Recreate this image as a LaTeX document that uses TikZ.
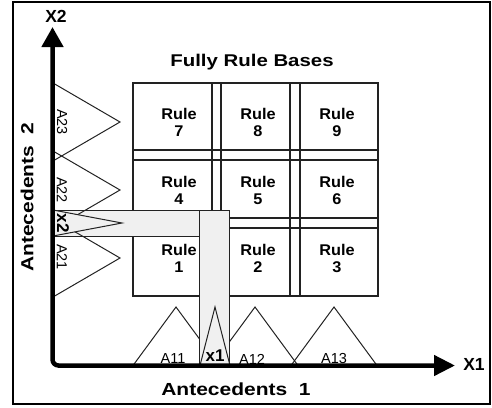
\documentclass[tikz,border=0pt]{standalone}
\usepackage{fontspec}
\setmainfont{Liberation Sans}
\newfontfamily\wideA[FakeStretch=1.2]{Liberation Sans}
\newfontfamily\wideB[FakeStretch=1.05]{Liberation Sans}
\usetikzlibrary{arrows.meta}
\definecolor{ink}{HTML}{222222}
\definecolor{stripfill}{HTML}{F0F0F0}
\begin{document}
\begin{tikzpicture}[x=1pt,y=-1pt,
  gridline/.style={draw=ink,line width=1.1pt},
  mf/.style={draw=ink,line width=1pt},
  graybar/.style={draw=ink,fill=stripfill,line width=1pt},
  rulelbl/.style={font=\wideB\bfseries\fontsize{15.5}{17}\selectfont,align=center,inner sep=0pt},
  mflbl/.style={font=\fontsize{14.5}{16}\selectfont,inner sep=0pt},
  inlbl/.style={font=\bfseries\fontsize{17}{19}\selectfont,inner sep=0pt},
  titlelbl/.style={font=\wideA\bfseries\fontsize{17}{20}\selectfont,inner sep=0pt},
  bigbold/.style={font=\wideA\bfseries\fontsize{17.5}{20}\selectfont,inner sep=0pt},
  axislbl/.style={font=\bfseries\fontsize{17.5}{20}\selectfont,inner sep=0pt},
  axis/.style={line width=4.5pt,rounded corners=6pt,
    {Triangle[length=20pt,width=21pt]}-{Triangle[length=21pt,width=20pt]}}
]
\useasboundingbox (0,0) rectangle (492,407);
\draw[line width=2pt] (12.8,1.7) rectangle (490,404);

% coordinates
\coordinate (O) at (52.5,365.5);
\coordinate (Ytip) at (52.5,27);
\coordinate (Xtip) at (455,365.5);

% rule base grid
\coordinate (G1) at (133,83);
\coordinate (G2) at (378,296);
\draw[gridline] (G1) rectangle (G2);
\foreach \x in {212,221,290,300} \draw[gridline] (\x,83) -- (\x,296);
\foreach \y in {150,160,218,228} \draw[gridline] (133,\y) -- (378,\y);

% horizontal input strip (x2)
\draw[graybar] (52.5,210) rectangle (199,236);

% antecedent 2 membership functions
\draw[mf] (53,83) -- (120,122) -- (53,161);
\draw[mf] (53,151) -- (120,190) -- (53,229);
\draw[mf] (53,219) -- (120,258) -- (53,297);

% antecedent 1 membership functions
\draw[mf] (133,365.5) -- (176,307) -- (219,365.5);
\draw[mf] (212,365.5) -- (255,307) -- (298,365.5);
\draw[mf] (291,365.5) -- (334,307) -- (377,365.5);

% vertical input strip (x1)
\draw[graybar] (199,210) rectangle (229,365.5);

% input singletons
\draw[graybar] (53,210) -- (122,223) -- (53,236);
\draw[graybar] (200,365.5) -- (215,307) -- (230,365.5) -- cycle;

% labels
\node[titlelbl] (title) at (252,62) {Fully Rule Bases};
\node[rulelbl] (r7) at (179,122) {Rule\\7};
\node[rulelbl] (r8) at (258,122) {Rule\\8};
\node[rulelbl] (r9) at (337,122) {Rule\\9};
\node[rulelbl] (r4) at (179,190) {Rule\\4};
\node[rulelbl] (r5) at (258,190) {Rule\\5};
\node[rulelbl] (r6) at (337,190) {Rule\\6};
\node[rulelbl] (r1) at (179,258) {Rule\\1};
\node[rulelbl] (r2) at (258,258) {Rule\\2};
\node[rulelbl] (r3) at (337,258) {Rule\\3};

\node[mflbl,rotate=-90] (a23) at (62,122) {A23};
\node[mflbl,rotate=-90] (a22) at (62,190) {A22};
\node[mflbl,rotate=-90] (a21) at (62,257) {A21};
\node[inlbl,rotate=-90] (x2) at (63,223) {x2};

\node[mflbl] (a11) at (173,359) {A11};
\node[mflbl] (a12) at (252,359) {A12};
\node[mflbl] (a13) at (334,359) {A13};
\node[inlbl] (x1) at (215,356) {x1};

\node[bigbold] (ant1) at (236,389) {Antecedents\ \ 1};
\node[bigbold,rotate=90] (ant2) at (27,197) {Antecedents\ \ 2};

% axes
\draw[axis] (Ytip) -- (O) -- (Xtip);
\node[axislbl] (X1) at (474,364) {X1};
\node[axislbl] (X2) at (56,16) {X2};
\end{tikzpicture}
\end{document}
